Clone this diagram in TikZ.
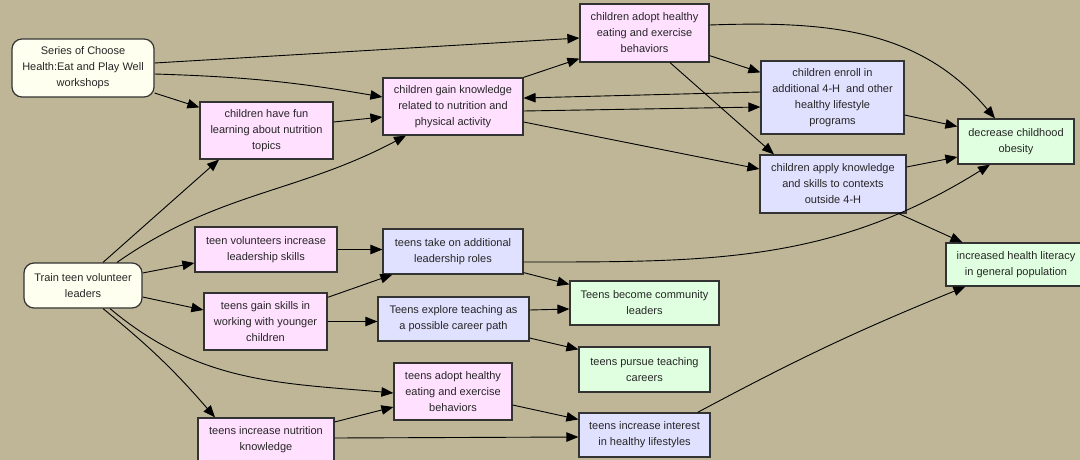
\documentclass[tikz,border=0pt]{standalone}
\usepackage{fontspec}
\setmainfont{Liberation Sans}
\usetikzlibrary{arrows.meta}

\definecolor{kidpink}{HTML}{FFE0FF}
\definecolor{teenblue}{HTML}{E0E0FF}
\definecolor{goalgreen}{HTML}{E0FFE0}
\definecolor{inputcream}{HTML}{FFFFF0}
\definecolor{boxline}{HTML}{333333}
\definecolor{paint}{HTML}{BEB696}

\begin{document}
\begin{tikzpicture}
    [
        x=1pt, y=1pt,
        font=\fontsize{11}{16}\selectfont,
        box/.style = {draw=boxline, shape=rectangle, line width=1.2pt, align=center, inner sep=0pt, text=black!85},
        input/.style = {box, rounded corners=10pt, fill=inputcream},
        kid/.style = {box, fill=kidpink},
        teen/.style = {box, fill=teenblue},
        goal/.style = {box, fill=goalgreen},
        link/.style = {-{Triangle[length=12pt,width=9.5pt]}, line width=0.9pt, black},
    ]

    \clip (0,0) rectangle (1080,-460);
    \fill[paint] (0,0) rectangle (1080,-460);

    % inputs
    \node[input, minimum width=142, minimum height=58] (ws) at (83,-68) {Series of Choose\\Health:Eat and Play Well\\workshops};
    \node[input, minimum width=118, minimum height=45] (train) at (83,-285.5) {Train teen volunteer\\leaders};

    % children
    \node[kid, minimum width=133, minimum height=57] (fun) at (266.5,-130.5) {children have fun\\learning about nutrition\\topics};
    \node[kid, minimum width=140, minimum height=57] (gain) at (453,-106.5) {children gain knowledge\\related to nutrition and\\physical activity};
    \node[kid, minimum width=129, minimum height=58] (adopt) at (644.5,-33) {children adopt healthy\\eating and exercise\\behaviors};
    \node[teen, minimum width=143, minimum height=73] (enroll) at (832.5,-97.5) {children enroll in\\additional 4-H\ \ and other\\healthy lifestyle\\programs};
    \node[teen, minimum width=146, minimum height=58] (apply) at (833,-184) {children apply knowledge\\and skills to contexts\\outside 4-H};

    % teens
    \node[kid, minimum width=142, minimum height=45] (tvol) at (266,-249.5) {teen volunteers increase\\leadership skills};
    \node[kid, minimum width=123, minimum height=57] (tgain) at (265.5,-321.5) {teens gain skills in\\working with younger\\children};
    \node[kid, minimum width=136, minimum height=44] (tnut) at (266,-440) {teens increase nutrition\\knowledge};
    \node[teen, minimum width=140, minimum height=45] (troles) at (453,-251.5) {teens take on additional\\leadership roles};
    \node[teen, minimum width=151, minimum height=44] (texplore) at (453.5,-319) {Teens explore teaching as\\a possible career path};
    \node[kid, minimum width=118, minimum height=57] (tadopt) at (453,-391.5) {teens adopt healthy\\eating and exercise\\behaviors};
    \node[goal, minimum width=149, minimum height=44] (tcomm) at (644.5,-303) {Teens become community\\leaders};
    \node[goal, minimum width=131, minimum height=45] (tpursue) at (644.5,-369.5) {teens pursue teaching\\careers};
    \node[teen, minimum width=131, minimum height=44] (tint) at (644.5,-435) {teens increase interest\\in healthy lifestyles};

    % outcomes
    \node[goal, minimum width=116, minimum height=45] (obes) at (1016,-141.5) {decrease childhood\\obesity};
    \node[goal, minimum width=140, minimum height=43] (lit) at (1016,-264.5) {increased health literacy\\in general population};

    % children links
    \draw[link] ([yshift=5]ws.east) -- ([yshift=-5]adopt.west);
    \draw[link] ([yshift=-6]ws.east) to[bend left=4] ([yshift=9.5]gain.west);
    \draw[link] ([yshift=-25]ws.east) -- ([yshift=-6]fun.north west);
    \draw[link] ([yshift=8.5]fun.east) -- ([yshift=-10.5]gain.west);
    \draw[link] ([xshift=20]train.north) -- ([xshift=-47.5]fun.south);
    \draw[link] ([xshift=34]train.north) to[out=35,in=208] ([xshift=-47]gain.south);
    \draw[link] (gain.north east) -- ([yshift=4]adopt.south west);
    \draw[link] ([yshift=7]adopt.south east) -- ([yshift=-12]enroll.north west);
    \draw[link] ([xshift=25.5]adopt.south) -- ([xshift=-59]apply.north);
    \draw[link] ([yshift=8]adopt.east) to[out=2,in=130] ([xshift=-21]obes.north);
    \draw[link] ([yshift=5.5]enroll.west) -- ([yshift=8.5]gain.east);
    \draw[link] ([yshift=-4.5]gain.east) -- ([yshift=-9.5]enroll.west);
    \draw[link] ([yshift=-15.5]gain.east) -- ([yshift=15]apply.west);
    \draw[link] ([yshift=-17.5]enroll.east) -- ([yshift=15]obes.west);
    \draw[link] ([yshift=17]apply.east) -- ([yshift=-15.5]obes.west);
    \draw[link] ([xshift=-8]apply.south east) -- ([xshift=17]lit.north west);

    % teen links
    \draw[link] ([yshift=12.5]train.east) -- ([yshift=-13.5]tvol.west);
    \draw[link] ([yshift=-11.5]train.east) -- ([yshift=11.5]tgain.west);
    \draw[link] ([xshift=27]train.south) to[out=-40,in=175] ([yshift=-1.5]tadopt.west);
    \draw[link] ([xshift=20]train.south) to[bend left=5] ([xshift=-51]tnut.north);
    \draw[link] (tvol.east) -- (tvol.east -| troles.west);
    \draw[link] ([yshift=-5]tgain.north east) -- ([xshift=10]troles.south west);
    \draw[link] (tgain.east) -- (tgain.east -| texplore.west);
    \draw[link] ([yshift=-10.5]troles.east) to[out=0,in=212] ([xshift=-26]obes.south);
    \draw[link] ([yshift=2]troles.south east) -- ([yshift=-4]tcomm.north west);
    \draw[link] ([yshift=9]texplore.east) -- ([yshift=-6]tcomm.west);
    \draw[link] ([yshift=-19]texplore.east) -- ([yshift=-3]tpursue.north west);
    \draw[link] ([yshift=18]tnut.east) -- ([yshift=-15.5]tadopt.west);
    \draw[link] ([yshift=2]tnut.east) -- ([yshift=-2]tint.west);
    \draw[link] ([yshift=-13.5]tadopt.east) -- ([yshift=-7]tint.north west);
    \draw[link] ([xshift=-13]tint.north east) to[bend left=3] ([xshift=20]lit.south west);
\end{tikzpicture}
\end{document}
